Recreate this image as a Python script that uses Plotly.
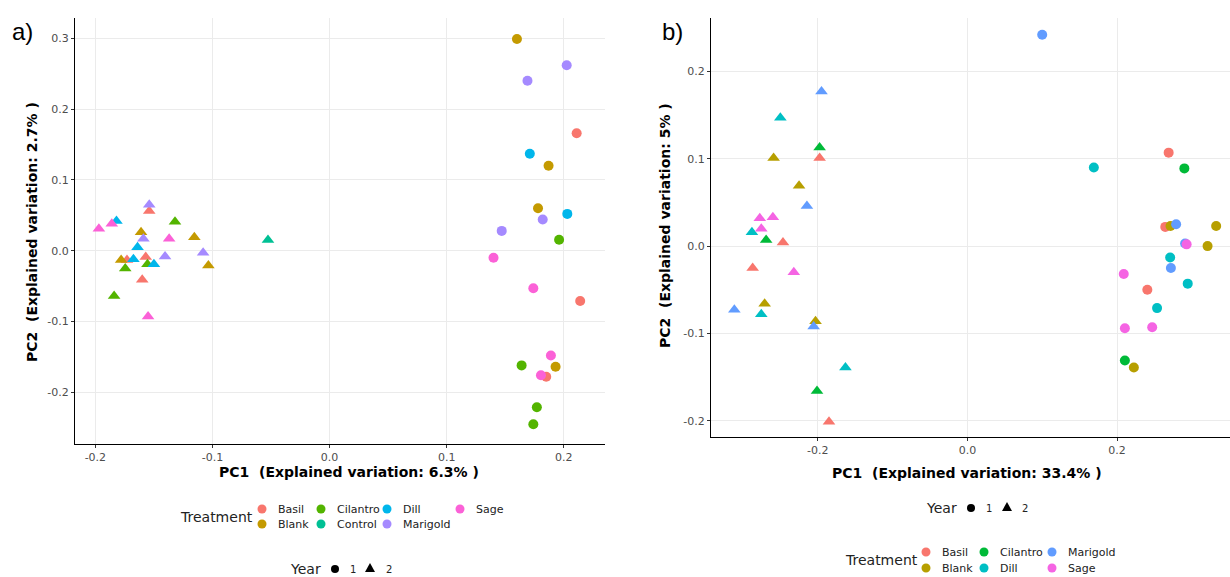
import plotly.graph_objects as go

# ---------------- data: panel a ----------------
a_treatments = ["Basil", "Blank", "Cilantro", "Control", "Dill", "Marigold", "Sage"]
a_colors = ["#F8766D", "#C49A00", "#53B400", "#00C094", "#00B6EB", "#A58AFF", "#FB61D7"]

a_treat = ["Blank", "Marigold", "Marigold", "Basil", "Dill", "Blank", "Blank", "Marigold", "Dill",
           "Marigold", "Cilantro", "Sage", "Sage", "Basil", "Sage", "Cilantro", "Blank", "Sage",
           "Basil", "Cilantro", "Cilantro",
           "Marigold", "Basil", "Dill", "Sage", "Sage", "Cilantro", "Blank", "Marigold", "Sage",
           "Blank", "Dill", "Marigold", "Marigold", "Blank", "Basil", "Dill", "Basil", "Cilantro",
           "Dill", "Blank", "Cilantro", "Basil", "Cilantro", "Sage", "Control"]
a_year = [1] * 21 + [2] * 25
a_pc1 = [0.160, 0.2025, 0.169, 0.211, 0.171, 0.187, 0.178, 0.182, 0.203,
         0.147, 0.196, 0.140, 0.174, 0.214, 0.189, 0.164, 0.193, 0.1805,
         0.185, 0.177, 0.174,
         -0.154, -0.154, -0.182, -0.186, -0.197, -0.132, -0.161, -0.159, -0.137,
         -0.1155, -0.164, -0.108, -0.1405, -0.178, -0.173, -0.1675, -0.157, -0.1555,
         -0.150, -0.1035, -0.1745, -0.160, -0.184, -0.155, -0.0526]
a_pc2 = [0.299, 0.262, 0.240, 0.166, 0.137, 0.120, 0.060, 0.044, 0.052,
         0.028, 0.0155, -0.010, -0.053, -0.071, -0.148, -0.162, -0.164, -0.176,
         -0.178, -0.221, -0.245,
         0.065, 0.056, 0.042, 0.038, 0.031, 0.041, 0.026, 0.017, 0.017,
         0.019, 0.005, -0.003, -0.008, -0.013, -0.013, -0.012, -0.009, -0.019,
         -0.019, -0.021, -0.025, -0.041, -0.064, -0.093, 0.015]

# ---------------- data: panel b ----------------
b_treatments = ["Basil", "Blank", "Cilantro", "Dill", "Marigold", "Sage"]
b_colors = ["#F8766D", "#B79F00", "#00BA38", "#00BFC4", "#619CFF", "#F564E3"]

b_treat = ["Marigold", "Basil", "Dill", "Cilantro", "Basil", "Blank", "Marigold", "Marigold",
           "Sage", "Blank", "Blank", "Dill", "Marigold", "Dill", "Sage", "Dill", "Basil",
           "Sage", "Sage", "Cilantro", "Blank",
           "Marigold", "Dill", "Cilantro", "Basil", "Blank", "Blank", "Marigold", "Sage", "Sage",
           "Sage", "Dill", "Cilantro", "Basil", "Basil", "Sage", "Blank", "Marigold", "Dill",
           "Blank", "Marigold", "Dill", "Cilantro", "Basil"]
b_year = [1] * 21 + [2] * 23
b_pc1 = [0.100, 0.269, 0.169, 0.290, 0.2645, 0.2715, 0.279, 0.291,
         0.293, 0.3325, 0.321, 0.271, 0.272, 0.2945, 0.209, 0.2535, 0.2405,
         0.247, 0.2105, 0.2105, 0.2225,
         -0.195, -0.250, -0.1975, -0.1975, -0.259, -0.225, -0.2145, -0.2775, -0.260,
         -0.2755, -0.288, -0.269, -0.2465, -0.287, -0.232, -0.271, -0.3115, -0.2755,
         -0.203, -0.2055, -0.163, -0.201, -0.185]
b_pc2 = [0.242, 0.107, 0.090, 0.089, 0.022, 0.023, 0.025, 0.003,
         0.002, 0.023, 0.000, -0.013, -0.025, -0.043, -0.032, -0.071, -0.050,
         -0.093, -0.094, -0.131, -0.139,
         0.177, 0.147, 0.113, 0.101, 0.101, 0.069, 0.046, 0.032, 0.033,
         0.020, 0.016, 0.007, 0.004, -0.025, -0.030, -0.066, -0.073, -0.078,
         -0.086, -0.092, -0.139, -0.166, -0.201]

a_ticks = [-0.2, -0.1, 0.0, 0.1, 0.2]
a_yticks = [-0.2, -0.1, 0.0, 0.1, 0.2, 0.3]
b_ticks = [-0.2, 0.0, 0.2]
b_yticks = [-0.2, -0.1, 0.0, 0.1, 0.2]

W, H = 1230, 577
FONT = "DejaVu Sans"


def px(x):
    return x / W


def py(y):
    return 1 - y / H


fig = go.Figure()

symbols = {1: "circle", 2: "triangle-up"}


def add_panel(treat, year, pc1, pc2, treatments, colors, xa, ya):
    for t, c in zip(treatments, colors):
        for yr in (1, 2):
            xs = [x for x, tt, yy in zip(pc1, treat, year) if tt == t and yy == yr]
            ys = [y for y, tt, yy in zip(pc2, treat, year) if tt == t and yy == yr]
            if not xs:
                continue
            fig.add_trace(go.Scatter(
                x=xs, y=ys, mode="markers", xaxis=xa, yaxis=ya, showlegend=False,
                marker=dict(color=c, symbol=symbols[yr], size=10 if yr == 1 else 11,
                            line=dict(width=0)),
                name=f"{t} {yr}"))


add_panel(a_treat, a_year, a_pc1, a_pc2, a_treatments, a_colors, "x", "y")
add_panel(b_treat, b_year, b_pc1, b_pc2, b_treatments, b_colors, "x2", "y2")

axis_common = dict(
    showgrid=True, gridcolor="#EBEBEB", gridwidth=1.4, zeroline=False,
    showline=True, linecolor="black", linewidth=1.3, mirror=False,
    ticks="outside", ticklen=3, tickcolor="#333333", tickwidth=1,
    tickfont=dict(family=FONT, size=11, color="#4D4D4D"),
)

fig.update_layout(
    width=W, height=H, margin=dict(l=0, r=0, t=0, b=0),
    paper_bgcolor="white", plot_bgcolor="white", showlegend=False,
    xaxis=dict(domain=[px(75), px(605)], range=[-0.2174, 0.2352], tickvals=a_ticks,
               ticktext=[f"{v:.1f}" for v in a_ticks], anchor="y", **axis_common),
    yaxis=dict(domain=[py(444), py(18)], range=[-0.273, 0.3287], tickvals=a_yticks,
               ticktext=[f"{v:.1f}" for v in a_yticks], anchor="x", **axis_common),
    xaxis2=dict(domain=[px(711), 1.0], range=[-0.3427, 0.351], tickvals=b_ticks,
                ticktext=[f"{v:.1f}" for v in b_ticks], anchor="y2", **axis_common),
    yaxis2=dict(domain=[py(437), py(18)], range=[-0.2186, 0.2612], tickvals=b_yticks,
                ticktext=[f"{v:.1f}" for v in b_yticks], anchor="x2", **axis_common),
)

ann = []
shapes = []


def text(x, y, s, size, bold=False, xanchor="center", angle=0, family=FONT, color="black"):
    ann.append(dict(x=px(x), y=py(y), xref="paper", yref="paper", text=f"<b>{s}</b>" if bold else s,
                    showarrow=False, xanchor=xanchor, yanchor="middle", textangle=angle,
                    font=dict(family=family, size=size, color=color)))


def dot(x, y, color, r=4.5):
    shapes.append(dict(type="circle", xref="paper", yref="paper", xsizemode="pixel", ysizemode="pixel",
                       xanchor=px(x), yanchor=py(y), x0=-r, x1=r, y0=-r, y1=r,
                       fillcolor=color, line=dict(width=0)))


def tri(x, y, color, r=5):
    shapes.append(dict(type="path", xref="paper", yref="paper", xsizemode="pixel", ysizemode="pixel",
                       xanchor=px(x), yanchor=py(y),
                       path=f"M {-r},{-0.8*r} L {r},{-0.8*r} L 0,{r} Z",
                       fillcolor=color, line=dict(width=0)))


# panel labels
text(22, 32, "a)", 24, family="Liberation Sans", xanchor="center")
text(672, 32, "b)", 24, family="Liberation Sans", xanchor="center")

# axis titles
sp = "\u00a0"
text(349, 472, f"PC1 {sp}(Explained variation: 6.3% )", 14, bold=True)
text(32, 232, f"PC2 {sp}(Explained variation: 2.7% )", 14, bold=True, angle=-90)
text(967, 473, f"PC1 {sp}(Explained variation: 33.4% )", 14, bold=True)
text(665, 226, f"PC2 {sp}(Explained variation: 5% )", 14, bold=True, angle=-90)

# legend panel a: treatment
text(178, 517, "Treatment", 14, xanchor="left", color="#222222")
a_pos = [(262, 509), (262, 524), (321, 509), (321, 524), (387, 509), (387, 524), (460, 509)]
for (lx, ly), t, c in zip(a_pos, a_treatments, a_colors):
    dot(lx, ly, c)
    text(lx + 14, ly, t, 11, xanchor="left", color="#222222")

# legend panel a: year
text(288, 569, "Year", 14, xanchor="left", color="#222222")
dot(335, 569, "black", r=4)
text(348, 569, "1", 10, xanchor="left", color="#222222")
tri(370, 568, "black")
text(384, 569, "2", 10, xanchor="left", color="#222222")

# legend panel b: year
text(924, 508, "Year", 14, xanchor="left", color="#222222")
dot(971, 508, "black", r=4)
text(984, 508, "1", 10, xanchor="left", color="#222222")
tri(1007, 507, "black")
text(1020, 508, "2", 10, xanchor="left", color="#222222")

# legend panel b: treatment
text(843, 560, "Treatment", 14, xanchor="left", color="#222222")
b_pos = [(926, 552), (926, 568), (984, 552), (984, 568), (1052, 552), (1052, 568)]
for (lx, ly), t, c in zip(b_pos, b_treatments, b_colors):
    dot(lx, ly, c)
    text(lx + 14, ly, t, 11, xanchor="left", color="#222222")

fig.update_layout(annotations=ann, shapes=shapes)
fig.write_html("out.html")
